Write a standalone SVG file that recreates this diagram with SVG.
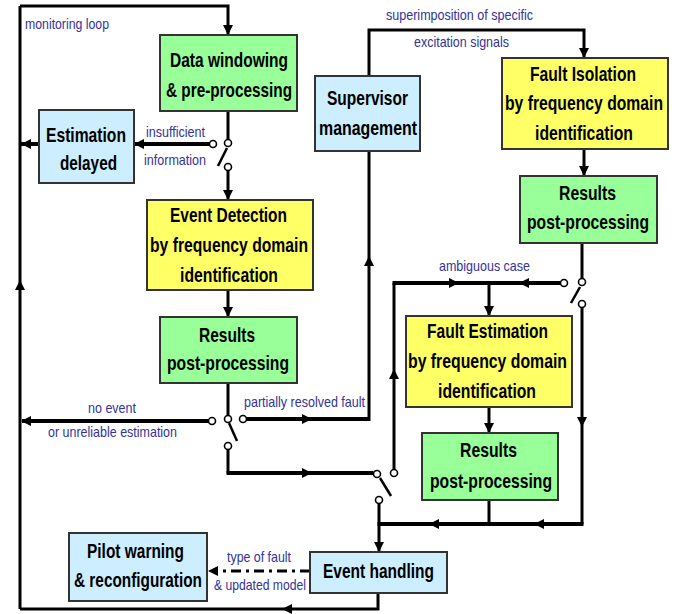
<svg xmlns="http://www.w3.org/2000/svg" xmlns:xlink="http://www.w3.org/1999/xlink" width="690" height="614" viewBox="0 0 690 614">
<style>
.bg{fill:#fff}
.g{fill:#99ff99}
.y{fill:#ffff66}
.b{fill:#cceeff}
.box{stroke:#333;stroke-width:2}
.t{font-family:"Liberation Sans",Arial,sans-serif;font-weight:bold;font-size:21px;fill:#000}
.l{font-family:"Liberation Sans",Arial,sans-serif;font-size:15px;fill:#333399}
.c{fill:none;stroke:#000;stroke-width:3;stroke-linejoin:miter}
.w{stroke-width:4}
.sw{fill:#fff;stroke:#000;stroke-width:1.6}
.bl{stroke:#000;stroke-width:2.5;fill:none}
.dd{fill:none;stroke:#000;stroke-width:3;stroke-dasharray:10,5,3,5}
</style>
<defs>
<path id="ar" d="M0,0 L-10,-5 L-10,5 Z" fill="#000"/>
</defs>
<rect class="bg" width="690" height="614"/>
<g id="connectors">
<path class="c" d="M20,6 V609"/>
<path class="c" d="M20,6 H228 V34"/>
<use xlink:href="#ar" transform="translate(228,35) rotate(90)"/>
<path class="c" d="M378,593 V609 H20"/>
<use xlink:href="#ar" transform="translate(282,609) rotate(180)"/>
<use xlink:href="#ar" transform="translate(20,280) rotate(-90)"/>
<path class="c" d="M228,111 V139.5"/>
<path class="bl" d="M218,166 L227,148"/>
<path class="c" d="M228,170.5 V199"/>
<use xlink:href="#ar" transform="translate(228,200) rotate(90)"/>
<path class="c w" d="M209.5,144 H135"/>
<use xlink:href="#ar" transform="translate(134,144) rotate(180)"/>
<path class="c w" d="M39,144 H21"/>
<use xlink:href="#ar" transform="translate(21,144) rotate(180)"/>
<path class="c" d="M228,290 V316"/>
<use xlink:href="#ar" transform="translate(228,317) rotate(90)"/>
<path class="c" d="M228,383 V415.5"/>
<path class="bl" d="M229,423 L237,441"/>
<path class="c w" d="M208.5,421 H22"/>
<use xlink:href="#ar" transform="translate(21,421) rotate(180)"/>
<path class="c w" d="M246.5,419 H369"/>
<path class="c" d="M369,421 V151"/>
<use xlink:href="#ar" transform="translate(312,419)"/>
<use xlink:href="#ar" transform="translate(369,256) rotate(-90)"/>
<path class="c" d="M369,76 V30 H584 V57"/>
<use xlink:href="#ar" transform="translate(584,58) rotate(90)"/>
<path class="c" d="M228,449.5 V473"/>
<path class="c w" d="M226.5,473 H373.5"/>
<use xlink:href="#ar" transform="translate(312,473)"/>
<path class="bl" d="M380,478 L391,496"/>
<path class="c" d="M394,469.5 V283"/>
<use xlink:href="#ar" transform="translate(394,369) rotate(-90)"/>
<path class="c w" d="M392.5,283 H560.5"/>
<use xlink:href="#ar" transform="translate(459,283)"/>
<use xlink:href="#ar" transform="translate(519,283) rotate(180)"/>
<path class="c" d="M489,283 V315"/>
<use xlink:href="#ar" transform="translate(489,316) rotate(90)"/>
<path class="c" d="M584,149 V175"/>
<use xlink:href="#ar" transform="translate(584,176) rotate(90)"/>
<path class="c" d="M582,243 V278.5"/>
<path class="bl" d="M571,303 L580,287"/>
<path class="c" d="M582,307.5 V524"/>
<use xlink:href="#ar" transform="translate(582,427) rotate(90)"/>
<path class="c w" d="M583.5,524 H377.5"/>
<use xlink:href="#ar" transform="translate(534,524) rotate(180)"/>
<use xlink:href="#ar" transform="translate(429,524) rotate(180)"/>
<path class="c" d="M489,407 V432"/>
<use xlink:href="#ar" transform="translate(489,433) rotate(90)"/>
<path class="c" d="M489,500 V524"/>
<path class="c" d="M379,503.5 V551"/>
<use xlink:href="#ar" transform="translate(379,552) rotate(90)"/>
<path class="dd" d="M310,571 H215"/>
<use xlink:href="#ar" transform="translate(208,571) rotate(180)"/>
<circle class="sw" cx="213" cy="144" r="3.5"/>
<circle class="sw" cx="228" cy="143" r="3.5"/>
<circle class="sw" cx="228" cy="167" r="3.5"/>
<circle class="sw" cx="212" cy="421" r="3.5"/>
<circle class="sw" cx="228" cy="419" r="3.5"/>
<circle class="sw" cx="243" cy="419" r="3.5"/>
<circle class="sw" cx="228" cy="446" r="3.5"/>
<circle class="sw" cx="377" cy="474" r="3.5"/>
<circle class="sw" cx="394" cy="473" r="3.5"/>
<circle class="sw" cx="379" cy="500" r="3.5"/>
<circle class="sw" cx="564" cy="283" r="3.5"/>
<circle class="sw" cx="582" cy="282" r="3.5"/>
<circle class="sw" cx="582" cy="304" r="3.5"/>
</g>
<g id="labels">
<text class="l" x="25" y="29" textLength="84" lengthAdjust="spacingAndGlyphs">monitoring loop</text>
<text class="l" x="146" y="137" textLength="59" lengthAdjust="spacingAndGlyphs">insufficient</text>
<text class="l" x="144" y="165" textLength="62" lengthAdjust="spacingAndGlyphs">information</text>
<text class="l" x="386" y="20" textLength="147" lengthAdjust="spacingAndGlyphs">superimposition of specific</text>
<text class="l" x="414" y="47" textLength="95" lengthAdjust="spacingAndGlyphs">excitation signals</text>
<text class="l" x="88" y="413" textLength="48" lengthAdjust="spacingAndGlyphs">no event</text>
<text class="l" x="48" y="437" textLength="129" lengthAdjust="spacingAndGlyphs">or unreliable estimation</text>
<text class="l" x="244" y="407" textLength="121" lengthAdjust="spacingAndGlyphs">partially resolved fault</text>
<text class="l" x="439" y="271" textLength="91" lengthAdjust="spacingAndGlyphs">ambiguous case</text>
<text class="l" x="227" y="562" textLength="64" lengthAdjust="spacingAndGlyphs">type of fault</text>
<text class="l" x="214" y="590" textLength="92" lengthAdjust="spacingAndGlyphs">&amp; updated model</text>
</g>
<g id="data-windowing">
<rect class="g box" x="160" y="35" width="137" height="76"/>
<text class="t" x="170" y="67" textLength="118" lengthAdjust="spacingAndGlyphs">Data windowing</text>
<text class="t" x="166" y="97" textLength="126" lengthAdjust="spacingAndGlyphs">&amp; pre-processing</text>
</g>
<g id="estimation-delayed">
<rect class="b box" x="39" y="110" width="95" height="73"/>
<text class="t" x="46" y="142" textLength="80" lengthAdjust="spacingAndGlyphs">Estimation</text>
<text class="t" x="60" y="170" textLength="57" lengthAdjust="spacingAndGlyphs">delayed</text>
</g>
<g id="supervisor">
<rect class="b box" x="315" y="76" width="105" height="75"/>
<text class="t" x="327" y="105" textLength="81" lengthAdjust="spacingAndGlyphs">Supervisor</text>
<text class="t" x="319" y="135" textLength="98" lengthAdjust="spacingAndGlyphs">management</text>
</g>
<g id="fault-isolation">
<rect class="y box" x="502" y="58" width="166" height="91"/>
<text class="t" x="530" y="81" textLength="106" lengthAdjust="spacingAndGlyphs">Fault Isolation</text>
<text class="t" x="505" y="110" textLength="158" lengthAdjust="spacingAndGlyphs">by frequency domain</text>
<text class="t" x="535" y="140" textLength="98" lengthAdjust="spacingAndGlyphs">identification</text>
</g>
<g id="results-isolation">
<rect class="g box" x="520" y="176" width="137" height="67"/>
<text class="t" x="559" y="200" textLength="57" lengthAdjust="spacingAndGlyphs">Results</text>
<text class="t" x="527" y="229" textLength="122" lengthAdjust="spacingAndGlyphs">post-processing</text>
</g>
<g id="event-detection">
<rect class="y box" x="147" y="200" width="166" height="90"/>
<text class="t" x="170" y="222" textLength="117" lengthAdjust="spacingAndGlyphs">Event Detection</text>
<text class="t" x="150" y="252" textLength="158" lengthAdjust="spacingAndGlyphs">by frequency domain</text>
<text class="t" x="180" y="282" textLength="98" lengthAdjust="spacingAndGlyphs">identification</text>
</g>
<g id="results-detection">
<rect class="g box" x="160" y="317" width="137" height="66"/>
<text class="t" x="199" y="342" textLength="56" lengthAdjust="spacingAndGlyphs">Results</text>
<text class="t" x="167" y="370" textLength="122" lengthAdjust="spacingAndGlyphs">post-processing</text>
</g>
<g id="fault-estimation">
<rect class="y box" x="406" y="316" width="166" height="91"/>
<text class="t" x="427" y="338" textLength="121" lengthAdjust="spacingAndGlyphs">Fault Estimation</text>
<text class="t" x="408" y="368" textLength="159" lengthAdjust="spacingAndGlyphs">by frequency domain</text>
<text class="t" x="438" y="398" textLength="98" lengthAdjust="spacingAndGlyphs">identification</text>
</g>
<g id="results-estimation">
<rect class="g box" x="422" y="433" width="136" height="67"/>
<text class="t" x="460" y="457" textLength="57" lengthAdjust="spacingAndGlyphs">Results</text>
<text class="t" x="430" y="488" textLength="122" lengthAdjust="spacingAndGlyphs">post-processing</text>
</g>
<g id="event-handling">
<rect class="b box" x="310" y="552" width="137" height="41"/>
<text class="t" x="323" y="578" textLength="111" lengthAdjust="spacingAndGlyphs">Event handling</text>
</g>
<g id="pilot-warning">
<rect class="b box" x="69" y="533" width="138" height="68"/>
<text class="t" x="87" y="558" textLength="97" lengthAdjust="spacingAndGlyphs">Pilot warning</text>
<text class="t" x="74" y="587" textLength="128" lengthAdjust="spacingAndGlyphs">&amp; reconfiguration</text>
</g>
</svg>
